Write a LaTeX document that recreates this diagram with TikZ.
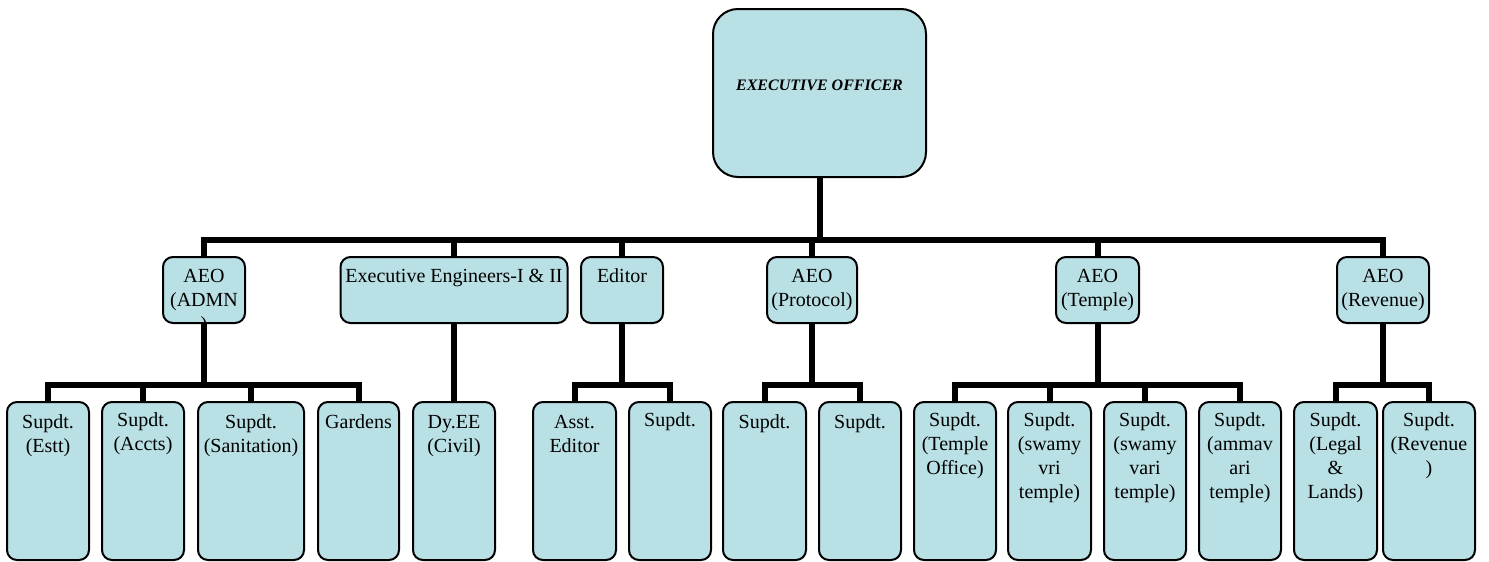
\documentclass[tikz,border=0pt]{standalone}
\usepackage{fontspec}
\setmainfont{Liberation Serif}
\definecolor{boxfill}{RGB}{185,224,228}
\tikzset{
  box/.style={draw=black, line width=2pt, fill=boxfill, rounded corners=10pt, inner sep=0pt, minimum height=#1},
  midbox/.style={box=66pt},
  lowbox/.style={box=158pt},
  lbl/.style={anchor=north, inner sep=0pt, align=center, font=\fontsize{20}{24}\selectfont},
  conn/.style={line width=6pt, draw=black, line join=miter}
}
\begin{document}
\begin{tikzpicture}[x=1pt,y=-1pt]
\useasboundingbox (0,0) rectangle (1489,562);
\coordinate (bus) at (0,240);
\coordinate (sub) at (0,385);
% top
\node[box=168pt, minimum width=213pt, rounded corners=25pt] (eo) at (819.5,93) {};
\node[inner sep=0pt, font=\fontsize{16}{19}\selectfont\bfseries\itshape] (teo) at (819.5,85) {EXECUTIVE OFFICER};
% middle row
\node[midbox, minimum width=82pt] (admn) at (204,290) {};
\node[midbox, minimum width=227pt] (ee) at (454,290) {};
\node[midbox, minimum width=82pt] (editor) at (622,290) {};
\node[midbox, minimum width=90pt] (prot) at (812,290) {};
\node[midbox, minimum width=83pt] (temple) at (1097.5,290) {};
\node[midbox, minimum width=92pt] (rev) at (1383,290) {};
% bottom row
\node[lowbox, minimum width=82pt] (estt) at (48,481) {};
\node[lowbox, minimum width=82pt] (accts) at (143,481) {};
\node[lowbox, minimum width=106pt] (sanit) at (251,481) {};
\node[lowbox, minimum width=81pt] (gardens) at (358.5,481) {};
\node[lowbox, minimum width=82pt] (dyee) at (454,481) {};
\node[lowbox, minimum width=83pt] (asst) at (574.5,481) {};
\node[lowbox, minimum width=82pt] (esup) at (670,481) {};
\node[lowbox, minimum width=83pt] (pa) at (764.5,481) {};
\node[lowbox, minimum width=82pt] (pb) at (860,481) {};
\node[lowbox, minimum width=82pt] (tof) at (955,481) {};
\node[lowbox, minimum width=83pt] (sva) at (1049.5,481) {};
\node[lowbox, minimum width=82pt] (svb) at (1145,481) {};
\node[lowbox, minimum width=82pt] (amm) at (1240,481) {};
\node[lowbox, minimum width=83pt] (legal) at (1335.5,481) {};
\node[lowbox, minimum width=92pt] (rsup) at (1429,481) {};
% connectors
\draw[conn] (eo.south) -- (eo.south |- bus);
\draw[conn] (admn.north) -- (admn.north |- bus) -- (rev.north |- bus) -- (rev.north);
\foreach \n in {ee,editor,prot,temple} \draw[conn] (\n.north) -- (\n.north |- bus);
% admn
\draw[conn] (admn.south) -- (admn.south |- sub);
\draw[conn] (estt.north) -- (estt.north |- sub) -- (gardens.north |- sub) -- (gardens.north);
\foreach \n in {accts,sanit} \draw[conn] (\n.north) -- (\n.north |- sub);
% ee
\draw[conn] (ee.south) -- (dyee.north);
% editor
\draw[conn] (editor.south) -- (editor.south |- sub);
\draw[conn] (asst.north) -- (asst.north |- sub) -- (esup.north |- sub) -- (esup.north);
% protocol
\draw[conn] (prot.south) -- (prot.south |- sub);
\draw[conn] (pa.north) -- (pa.north |- sub) -- (pb.north |- sub) -- (pb.north);
% temple
\draw[conn] (temple.south) -- (temple.south |- sub);
\draw[conn] (tof.north) -- (tof.north |- sub) -- (amm.north |- sub) -- (amm.north);
\foreach \n in {sva,svb} \draw[conn] (\n.north) -- (\n.north |- sub);
% revenue
\draw[conn] (rev.south) -- (rev.south |- sub);
\draw[conn] (legal.north) -- (legal.north |- sub) -- (rsup.north |- sub) -- (rsup.north);
% labels
\begin{scope}
\clip (165,258) rectangle (243,322);
\node[lbl] (tadmn) at ([yshift=-9pt]admn.north) {\strut AEO\\(ADMN\\)};
\end{scope}
\node[lbl] (tee) at ([yshift=-9pt]ee.north) {\strut Executive Engineers-I \& II};
\node[lbl] (teditor) at ([yshift=-9pt]editor.north) {\strut Editor};
\node[lbl] (tprot) at ([yshift=-9pt]prot.north) {\strut AEO\\(Protocol)};
\node[lbl] (ttemple) at ([yshift=-9pt]temple.north) {\strut AEO\\(Temple)};
\node[lbl] (trev) at ([yshift=-9pt]rev.north) {\strut AEO\\(Revenue)};
\node[lbl] (testt) at ([yshift=-10pt]estt.north) {\strut Supdt.\\(Estt)};
\node[lbl] (taccts) at ([yshift=-8pt]accts.north) {\strut Supdt.\\(Accts)};
\node[lbl] (tsanit) at ([yshift=-10pt]sanit.north) {\strut Supdt.\\(Sanitation)};
\node[lbl] (tgardens) at ([yshift=-10pt]gardens.north) {\strut Gardens};
\node[lbl] (tdyee) at ([yshift=-10pt]dyee.north) {\strut Dy.EE\\(Civil)};
\node[lbl] (tasst) at ([yshift=-10pt]asst.north) {\strut Asst.\\Editor};
\node[lbl] (tesup) at ([yshift=-8pt]esup.north) {\strut Supdt.};
\node[lbl] (tpa) at ([yshift=-10pt]pa.north) {\strut Supdt.};
\node[lbl] (tpb) at ([yshift=-10pt]pb.north) {\strut Supdt.};
\node[lbl] (ttof) at ([yshift=-8pt]tof.north) {\strut Supdt.\\(Temple\\Office)};
\node[lbl] (tsva) at ([yshift=-8pt]sva.north) {\strut Supdt.\\(swamy\\vri\\temple)};
\node[lbl] (tsvb) at ([yshift=-8pt]svb.north) {\strut Supdt.\\(swamy\\vari\\temple)};
\node[lbl] (tamm) at ([yshift=-8pt]amm.north) {\strut Supdt.\\(ammav\\ari\\temple)};
\node[lbl] (tlegal) at ([yshift=-8pt]legal.north) {\strut Supdt.\\(Legal\\\&\\Lands)};
\node[lbl] (trsup) at ([yshift=-8pt]rsup.north) {\strut Supdt.\\(Revenue\\)};
\end{tikzpicture}
\end{document}
